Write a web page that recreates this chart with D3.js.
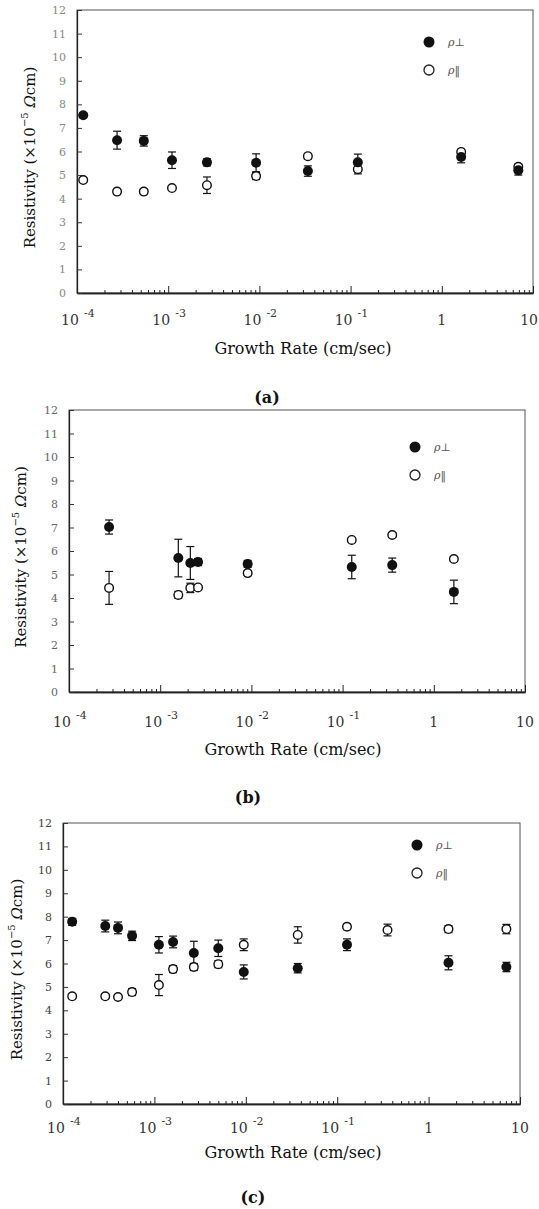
<!DOCTYPE html>
<html>
<head>
<meta charset="utf-8">
<script src="https://cdn.jsdelivr.net/npm/d3@7/dist/d3.min.js"></script>
<style>
  body { margin: 0; background: #fff; }
  svg { display: block; }
  text { font-family: "DejaVu Serif", "Liberation Serif", serif; fill: #111; }
</style>
</head>
<body>
<svg id="chart" width="539" height="1209"></svg>
<script>
// --- data ---
const yTicks = [0, 1, 2, 3, 4, 5, 6, 7, 8, 9, 10, 11, 12];
const xDecades = [1e-4, 1e-3, 1e-2, 1e-1, 1, 10];
const xDecadeLabels = [["10", "-4"], ["10", "-3"], ["10", "-2"], ["10", "-1"], ["1", ""], ["10", ""]];
const legendLabels = ["\u03c1\u22a5", "\u03c1\u2016"];
const captions = ["(a)", "(b)", "(c)"];

// panel (a)
const rateA = [1.17e-4, 2.75e-4, 5.4e-4, 1.1e-3, 2.66e-3, 9.2e-3, 0.034, 0.12, 1.63, 6.9];
const perpA = [7.54, 6.48, 6.45, 5.63, 5.54, 5.52, 5.17, 5.54, 5.77, 5.2];
const perpErrA = [0.1, 0.38, 0.22, 0.35, 0.15, 0.38, 0.22, 0.35, 0.25, 0.2];
const parA = [4.79, 4.3, 4.3, 4.45, 4.57, 4.96, 5.8, 5.25, 5.98, 5.35];
const parErrA = [0.1, 0.1, 0.1, 0.1, 0.35, 0.15, 0.12, 0.2, 0.12, 0.12];

// panel (b)
const rateB = [2.75e-4, 1.58e-3, 2.14e-3, 2.6e-3, 9.1e-3, 0.126, 0.35, 1.66];
const perpB = [7.02, 5.7, 5.49, 5.53, 5.45, 5.32, 5.4, 4.26];
const perpErrB = [0.3, 0.8, 0.7, 0.15, 0.15, 0.5, 0.3, 0.5];
const parB = [4.43, 4.13, 4.43, 4.45, 5.06, 6.47, 6.68, 5.66];
const parErrB = [0.7, 0.15, 0.2, 0.1, 0.1, 0.1, 0.1, 0.1];

// panel (c)
const rateC = [1.26e-4, 2.9e-4, 4.0e-4, 5.7e-4, 1.12e-3, 1.6e-3, 2.7e-3, 5.0e-3, 9.5e-3, 0.037, 0.128, 0.355, 1.65, 7.1];
const perpC = [7.78, 7.6, 7.52, 7.18, 6.8, 6.92, 6.45, 6.65, 5.64, 5.8, 6.8, null, 6.03, 5.85];
const perpErrC = [0.15, 0.25, 0.25, 0.2, 0.35, 0.25, 0.5, 0.35, 0.3, 0.2, 0.25, 0, 0.3, 0.2];
const parC = [4.6, 4.6, 4.57, 4.78, 5.08, 5.76, 5.85, 5.97, 6.8, 7.22, 7.57, 7.43, 7.47, 7.47];
const parErrC = [0.1, 0.1, 0.1, 0.15, 0.45, 0.15, 0.15, 0.15, 0.25, 0.35, 0.12, 0.25, 0.15, 0.2];

// panel boxes and text offsets (pixels)
const panels = [
  { rate: rateA, perp: perpA, perpErr: perpErrA, par: parA, parErr: parErrA,
    left: 77, right: 533, top: 10, bottom: 293, legX: 429, legY: 42, labelX: 30,
    tickY: 32, titleY: 61, capY: 110, capX: 267, titleX: 303, tickCol: "#888" },
  { rate: rateB, perp: perpB, perpErr: perpErrB, par: parB, parErr: parErrB,
    left: 69, right: 525, top: 410, bottom: 692, legX: 415, legY: 447, labelX: 21,
    tickY: 35, titleY: 63, capY: 111, capX: 248, titleX: 293, tickCol: "#666" },
  { rate: rateC, perp: perpC, perpErr: perpErrC, par: parC, parErr: parErrC,
    left: 63, right: 520, top: 823, bottom: 1104, legX: 417, legY: 845, labelX: 17,
    tickY: 29, titleY: 54, capY: 99, capX: 253, titleX: 293, tickCol: "#444" }
];

const svg = d3.select("#chart");
const W = 539;

// minor ticks 2..9 for every decade
let minorTicks = [];
xDecades.slice(0, -1).forEach(d => {
  for (let k = 2; k <= 9; k++) minorTicks.push(d * k);
});

panels.forEach((p, pi) => {
  let g = svg.append("g");
  let x = d3.scaleLog().domain([1e-4, 10]).range([p.left, p.right]);
  let y = d3.scaleLinear().domain([0, 12]).range([p.bottom, p.top]);

  // frame
  g.append("rect")
    .attr("x", p.left).attr("y", p.top)
    .attr("width", p.right - p.left).attr("height", p.bottom - p.top)
    .attr("fill", "none").attr("stroke", "#555").attr("stroke-width", 1);

  // x axis: minor + major ticks pointing inward
  let xMinor = d3.axisBottom(x).tickValues(minorTicks).tickSizeInner(-3).tickSizeOuter(0).tickFormat("");
  let xMajor = d3.axisBottom(x).tickValues(xDecades).tickSizeInner(-7).tickSizeOuter(0).tickFormat("");
  [xMinor, xMajor].forEach(ax => {
    let a = g.append("g").attr("transform", "translate(0," + p.bottom + ")").call(ax);
    a.select(".domain").attr("stroke", "#222").attr("stroke-width", 1.3);
    a.selectAll(".tick line").attr("stroke", "#222");
  });

  // x tick labels with superscripts
  xDecades.forEach((d, i) => {
    let sup = xDecadeLabels[i][1];
    let tx = x(d) + (sup ? -7 : 0);
    let t = g.append("text")
      .attr("x", tx).attr("y", p.bottom + p.tickY)
      .attr("text-anchor", "middle")
      .style("font-size", "14px").style("fill", "#333")
      .text(xDecadeLabels[i][0]);
    // keep the last label inside the page
    if (tx + 10 > W) t.attr("x", W - 1).attr("text-anchor", "end");
    if (sup) {
      g.append("text")
        .attr("x", x(d) + 7).attr("y", p.bottom + p.tickY - 8)
        .style("font-size", "11px").style("fill", "#333")
        .text(sup);
    }
  });

  // y axis
  let yAxis = d3.axisLeft(y).tickValues(yTicks).tickSizeInner(-5).tickSizeOuter(0).tickPadding(11);
  let ya = g.append("g").attr("transform", "translate(" + p.left + ",0)").call(yAxis);
  ya.attr("font-family", null);
  ya.select(".domain").attr("stroke", "#222").attr("stroke-width", 1.3);
  ya.selectAll(".tick line").attr("stroke", "#333");
  ya.selectAll(".tick text")
    .style("font-size", "11px").style("fill", p.tickCol);

  // axis titles
  g.append("text")
    .attr("x", p.titleX).attr("y", p.bottom + p.titleY)
    .attr("text-anchor", "middle").style("font-size", "16px")
    .text("Growth Rate (cm/sec)");

  let yl = g.append("text")
    .attr("transform", "translate(" + (p.labelX + 5) + "," + ((p.top + p.bottom) / 2 + 6) + ") rotate(-90)")
    .attr("text-anchor", "middle").style("font-size", "15px");
  yl.append("tspan").text("Resistivity (\u00d710");
  yl.append("tspan").attr("dy", -7).style("font-size", "10px").text("\u22125");
  yl.append("tspan").attr("dy", 7).text("  ");
  yl.append("tspan").style("font-style", "italic").text("\u03a9");
  yl.append("tspan").text("cm)");

  // caption
  g.append("text")
    .attr("x", p.capX).attr("y", p.bottom + p.capY)
    .attr("text-anchor", "middle").style("font-size", "16px").style("font-weight", "bold")
    .text(captions[pi]);

  // points
  let perpPts = p.rate.map((r, i) => ({ r: r, v: p.perp[i], e: p.perpErr[i] })).filter(d => d.v != null);
  let parPts = p.rate.map((r, i) => ({ r: r, v: p.par[i], e: p.parErr[i] }));

  function errorBars(pts) {
    let eb = g.append("g").attr("stroke", "#111").attr("stroke-width", 1.2);
    pts.forEach(d => {
      eb.append("line").attr("x1", x(d.r)).attr("x2", x(d.r)).attr("y1", y(d.v - d.e)).attr("y2", y(d.v + d.e));
      [d.v - d.e, d.v + d.e].forEach(v => {
        eb.append("line").attr("x1", x(d.r) - 4).attr("x2", x(d.r) + 4).attr("y1", y(v)).attr("y2", y(v));
      });
    });
  }
  errorBars(parPts);
  errorBars(perpPts);

  g.selectAll(".par").data(parPts).enter().append("circle")
    .attr("class", "par")
    .attr("cx", d => x(d.r)).attr("cy", d => y(d.v)).attr("r", 4.3)
    .attr("fill", "#fff").attr("stroke", "#111").attr("stroke-width", 1.4);

  g.selectAll(".perp").data(perpPts).enter().append("circle")
    .attr("class", "perp")
    .attr("cx", d => x(d.r)).attr("cy", d => y(d.v)).attr("r", 5)
    .attr("fill", "#111");

  // legend
  g.append("circle").attr("cx", p.legX).attr("cy", p.legY).attr("r", 5.5).attr("fill", "#111");
  g.append("circle").attr("cx", p.legX).attr("cy", p.legY + 28).attr("r", 5).attr("fill", "#fff")
    .attr("stroke", "#222").attr("stroke-width", 1.3);
  legendLabels.forEach((l, i) => {
    g.append("text")
      .attr("x", p.legX + 19).attr("y", p.legY + i * 28 + 4)
      .style("font-size", "11px").style("font-style", "italic").style("fill", "#555")
      .text(l);
  });
});
</script>
</body>
</html>
